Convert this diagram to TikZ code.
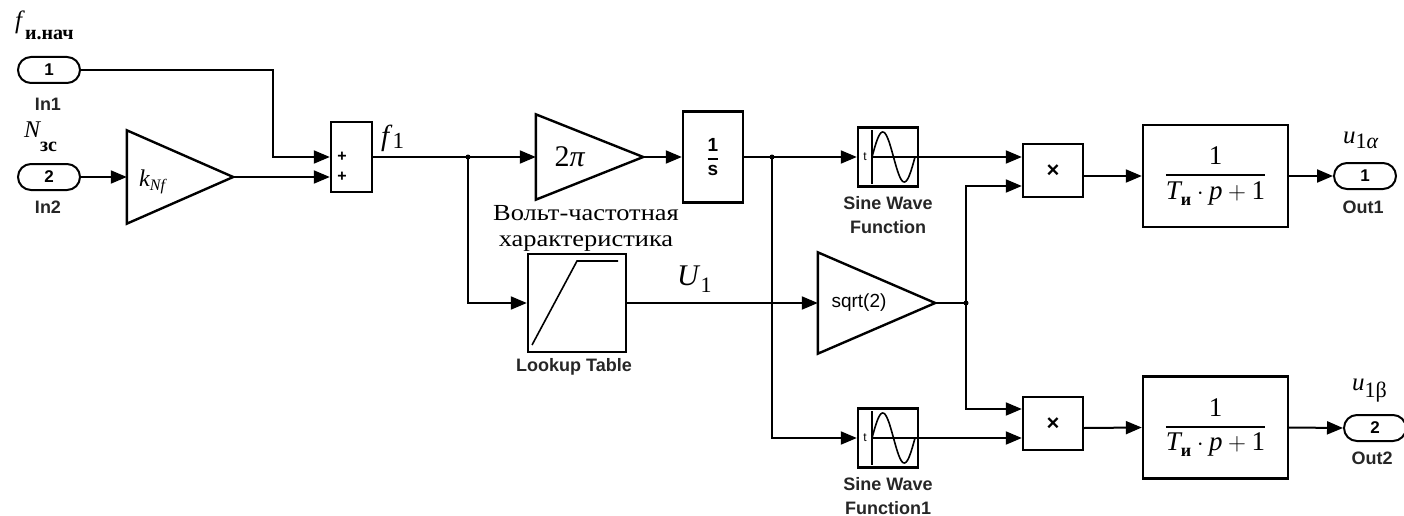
\documentclass[tikz,border=0pt]{standalone}
\usepackage{fontspec}
\setmainfont{Liberation Serif}
\newfontfamily\lsans{Liberation Sans}
\newfontfamily\wideserif[FakeStretch=1.15]{Liberation Serif}
\usetikzlibrary{arrows.meta,shapes.misc}
\begin{document}
\begin{tikzpicture}[x=1pt,y=-1pt,
  wire/.style={line width=2pt,-{Triangle[length=16pt,width=13pt]}},
  plainwire/.style={line width=2pt},
  blk/.style={draw,line width=2.4pt,inner sep=0pt},
  ghost/.style={draw=none,inner sep=0pt},
  gainshape/.style={line width=2.4pt,line join=miter},
  port/.style={rounded rectangle,draw,line width=2pt,minimum width=62pt,minimum height=26pt,inner sep=0pt,font=\lsans\bfseries\fontsize{17}{17}\selectfont},
  slab/.style={font=\lsans\bfseries\fontsize{18}{24}\selectfont,text=black!85,align=center,inner sep=0pt},
  dotnode/.style={circle,fill,inner sep=0pt,minimum size=5pt},
  mlab/.style={inner sep=0pt,anchor=base west},
  icon/.style={line width=1.6pt},
]
\useasboundingbox (0,0) rectangle (1404,516);

% ---- inputs
\node[port] (in1) at (49,70) {1};
\node[slab] (in1l) at (48,104) {In1};
\node[port] (in2) at (49,177) {2};
\node[slab] (in2l) at (48,207) {In2};
\node[mlab] (lf) at (15,29) {\fontsize{25}{25}\selectfont\itshape f\/\upshape\bfseries\fontsize{20}{20}\selectfont\raisebox{-11pt}{и.нач}};
\node[mlab] (ln) at (24,137) {\fontsize{24}{24}\selectfont\itshape N\upshape\bfseries\fontsize{20}{20}\selectfont\raisebox{-14pt}{зс}};

% ---- gain kNf
\node[ghost,minimum width=106pt,minimum height=93pt] (gk) at (180,177) {};
\draw[gainshape] (gk.north west) -- (gk.east) -- (gk.south west) -- cycle;
\node[mlab] (gkt) at (139,186) {\fontsize{24}{24}\selectfont\itshape k\raisebox{-4pt}{\fontsize{16}{16}\selectfont Nf}};

% ---- sum
\node[blk,minimum width=41pt,minimum height=70pt] (sum) at (351.5,157) {};
\node[font=\lsans\bfseries\fontsize{16}{16}\selectfont,inner sep=0pt] (sp1) at (342,157) {+};
\node[font=\lsans\bfseries\fontsize{16}{16}\selectfont,inner sep=0pt] (sp2) at (342,177) {+};
\coordinate (sumin2) at ([yshift=-20pt]sum.west);
\node[mlab] (lf1) at (381,146) {\fontsize{29}{29}\selectfont\itshape f\/\upshape\fontsize{23}{23}\selectfont\raisebox{-2pt}{1}};

% ---- gain 2pi
\node[ghost,minimum width=107pt,minimum height=85pt] (g2) at (589.5,157) {};
\draw[gainshape] (g2.north west) -- (g2.east) -- (g2.south west) -- cycle;
\node[inner sep=0pt] (g2t) at (570,157) {\fontsize{30}{30}\selectfont 2\textit{π}};

% ---- integrator
\node[blk,minimum width=60pt,minimum height=91pt] (intg) at (713,157) {};
\node[inner sep=0pt] (intgt) at (713,157) {\fontsize{19}{19}\selectfont$\displaystyle{\mbox{\lsans\bfseries 1}\above 1.6pt\mbox{\lsans\bfseries s}}$};

% ---- sine wave blocks
\foreach \nm/\yy in {sw1/157,sw2/438}{
  \node[blk,minimum width=60pt,minimum height=59pt] (\nm) at (888,\yy) {};
  \begin{scope}[shift={(\nm.center)}]
    \draw[icon] (-16,-27) -- (-16,27);
    \draw[icon] (-16,0) -- (30,0);
    \draw[icon] plot[domain=0:43,samples=50,smooth] ({-16+\x},{-25*sin(360*\x/43)});
    \node[font=\lsans\fontsize{12}{12}\selectfont,inner sep=0pt] at (-23,0) {t};
  \end{scope}
}
\node[slab] (sw1l) at (888,215) {Sine Wave\\Function};
\node[slab] (sw2l) at (888,496) {Sine Wave\\Function1};

% ---- lookup table
\node[blk,minimum width=98pt,minimum height=98pt] (lut) at (577,303) {};
\draw[icon] ([shift={(-45,42)}]lut.center) -- ([shift={(0,-42)}]lut.center) -- ([shift={(41,-42)}]lut.center);
\node[font=\wideserif\fontsize{23}{26}\selectfont,align=center,inner sep=0pt] (lutt) at (586,228) {Вольт-частотная\\характеристика};
\node[slab] (lutl) at (574,367) {Lookup Table};
\node[mlab] (lu1) at (677,285) {\fontsize{30}{30}\selectfont\itshape U\/\upshape\fontsize{22}{22}\selectfont\raisebox{-7pt}{1}};

% ---- gain sqrt(2)
\node[ghost,minimum width=117pt,minimum height=101pt] (gs) at (876.5,303) {};
\draw[gainshape] (gs.north west) -- (gs.east) -- (gs.south west) -- cycle;
\node[font=\lsans\fontsize{19}{19}\selectfont,inner sep=0pt] (gst) at (859,303) {sqrt(2)};

% ---- products
\node[blk,minimum width=60pt,minimum height=53pt] (p1) at (1053,170.5) {};
\node[font=\lsans\bfseries\fontsize{22}{22}\selectfont,inner sep=0pt] (p1t) at (1053,171) {×};
\node[blk,minimum width=60pt,minimum height=53pt] (p2) at (1053,423.5) {};
\node[font=\lsans\bfseries\fontsize{22}{22}\selectfont,inner sep=0pt] (p2t) at (1053,424) {×};

% ---- transfer functions
\foreach \nm/\yy in {tf1/176,tf2/427.5}{
  \node[blk,minimum width=145pt,minimum height=102pt] (\nm) at (1215.5,\yy) {};
  \node[inner sep=0pt] at (1215.5,\yy) {\fontsize{27}{27}\selectfont$\displaystyle{\mbox{1}\above 1.8pt\mbox{\itshape T\upshape\bfseries\fontsize{18}{18}\selectfont\raisebox{-6pt}{и}}\cdot\mbox{\itshape p}+\mbox{1}}$};
}

% ---- outputs
\node[port] (out1) at (1365,176) {1};
\node[slab] (out1l) at (1363,207) {Out1};
\node[port] (out2) at (1375,428) {2};
\node[slab] (out2l) at (1372,458) {Out2};
\node[mlab] (lua) at (1343,143) {\fontsize{25}{25}\selectfont\itshape u\upshape\fontsize{22}{22}\selectfont\raisebox{-5pt}{1\textit{α}}};
\node[mlab] (lub) at (1352,390) {\fontsize{25}{25}\selectfont\itshape u\upshape\fontsize{22}{22}\selectfont\raisebox{-7pt}{1β}};

% ---- junctions
\node[dotnode] (j1) at (468,157) {};
\node[dotnode] (j2) at (772,157) {};
\node[dotnode] (j3) at (966,303) {};

% ---- wires
\draw[wire] (in1.east) -| ([xshift=-57pt]sum.west) -- (sum.west);
\draw[wire] (in2.east) -- (gk.west);
\draw[wire] (gk.east) -- (sumin2);
\draw[wire] (sum.east) -- (g2.west);
\draw[wire] (j1.center) |- (lut.west);
\draw[wire] (g2.east) -- (intg.west);
\draw[wire] (intg.east) -- (sw1.west);
\draw[wire] (j2.center) |- (sw2.west);
\draw[wire] (lut.east) -- (gs.west);
\draw[plainwire] (gs.east) -- (j3.center);
\draw[wire] (j3.center) |- ([yshift=-15.5pt]p1.west);
\draw[wire] (j3.center) |- ([yshift=14.5pt]p2.west);
\draw[wire] (sw1.east) -- ([yshift=13.5pt]p1.west);
\draw[wire] (sw2.east) -- ([yshift=-14.5pt]p2.west);
\draw[wire] ([yshift=-5.5pt]p1.east) -- (tf1.west);
\draw[wire] ([yshift=-4.5pt]p2.east) -- (tf2.west);
\draw[wire] (tf1.east) -- (out1.west);
\draw[wire] (tf2.east) -- (out2.west);
\end{tikzpicture}
\end{document}
